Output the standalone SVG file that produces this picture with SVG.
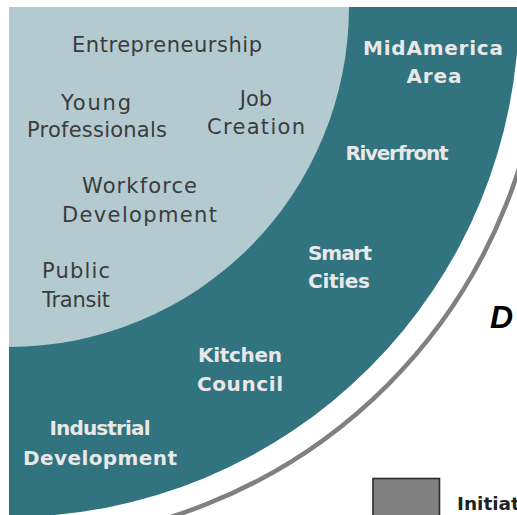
<svg xmlns="http://www.w3.org/2000/svg" width="517" height="515" viewBox="0 0 517 515">
<style>
.lt{font-family:"DejaVu Sans","Liberation Sans",sans-serif;font-size:21px;fill:#3b3b3b;text-anchor:middle}
.dk{font-family:"DejaVu Sans","Liberation Sans",sans-serif;font-size:20px;font-weight:bold;fill:#e8e8e8;text-anchor:middle}
</style>
<rect width="517" height="515" fill="#ffffff"/>
<g id="outer-ring">
<path d="M 9 7 L 519 7 A 510 510 0 0 1 9 517 Z" fill="#31737f"/>
<path d="M 544 7 A 535 535 0 0 1 9 542" fill="none" stroke="#808080" stroke-width="4.5"/>
</g>
<g id="inner-core">
<path d="M 9 7 L 349 7 A 340 340 0 0 1 9 347 Z" fill="#b3cbd0"/>
</g>
<g id="n-entrepreneurship"><text class="lt" x="167" y="52" textLength="190" lengthAdjust="spacing">Entrepreneurship</text></g>
<g id="n-young-professionals"><text class="lt" x="96" y="110" textLength="70" lengthAdjust="spacing">Young</text><text class="lt" x="97" y="137" textLength="140" lengthAdjust="spacing">Professionals</text></g>
<g id="n-job-creation"><text class="lt" x="256" y="106" font-size="22">Job</text><text class="lt" x="256" y="134" textLength="98" lengthAdjust="spacing">Creation</text></g>
<g id="n-workforce"><text class="lt" x="139.5" y="193" textLength="115" lengthAdjust="spacing">Workforce</text><text class="lt" x="139.5" y="222" textLength="155" lengthAdjust="spacing">Development</text></g>
<g id="n-public-transit"><text class="lt" x="76" y="278" textLength="68" lengthAdjust="spacing">Public</text><text class="lt" x="76" y="307" textLength="68" lengthAdjust="spacing">Transit</text></g>
<g id="n-midamerica"><text class="dk" x="433" y="55" textLength="140" lengthAdjust="spacing">MidAmerica</text><text class="dk" x="434" y="83" textLength="55" lengthAdjust="spacing">Area</text></g>
<g id="n-riverfront"><text class="dk" x="397" y="160" textLength="103" lengthAdjust="spacing">Riverfront</text></g>
<g id="n-smart-cities"><text class="dk" x="340" y="260" textLength="64" lengthAdjust="spacing">Smart</text><text class="dk" x="339" y="288" textLength="62" lengthAdjust="spacing">Cities</text></g>
<g id="n-kitchen-council"><text class="dk" x="240" y="362" textLength="84" lengthAdjust="spacing">Kitchen</text><text class="dk" x="240" y="391" textLength="86" lengthAdjust="spacing">Council</text></g>
<g id="n-industrial"><text class="dk" x="100" y="435" textLength="101" lengthAdjust="spacing">Industrial</text><text class="dk" x="100" y="465" textLength="154" lengthAdjust="spacing">Development</text></g>
<g id="title-d"><text x="490" y="328" font-family="Liberation Sans, Arial, sans-serif" font-size="32" font-weight="bold" font-style="italic" fill="#000">D</text></g>
<g id="legend">
<rect x="373" y="478.5" width="66.5" height="45" fill="#808080" stroke="#2b2b2b" stroke-width="1.6"/>
<text x="457" y="510" font-family="DejaVu Sans, Liberation Sans, sans-serif" font-size="18.5" font-weight="bold" fill="#222">Initiat</text>
</g>
</svg>
